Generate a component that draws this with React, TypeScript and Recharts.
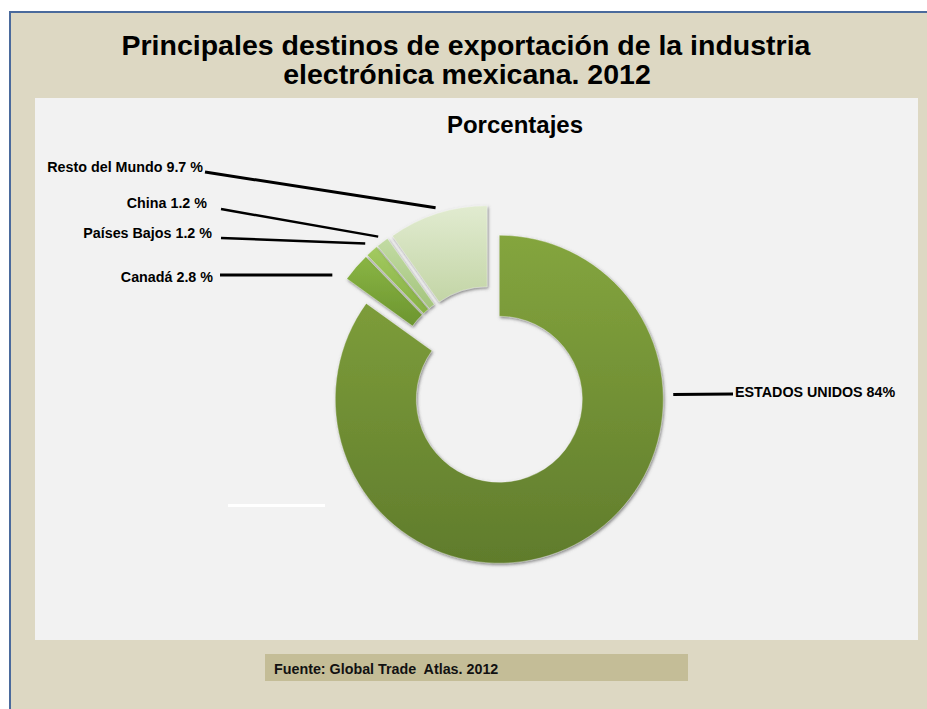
import React from 'react';
import { PieChart, Pie, Cell } from 'recharts';

const categories = ['ESTADOS UNIDOS', 'Canadá', 'Países Bajos', 'China', 'Resto del Mundo'];
const shares = [84, 2.8, 1.2, 1.2, 9.7];
const labelTexts = ['ESTADOS UNIDOS 84%', 'Canadá 2.8 %', 'Países Bajos 1.2 %', 'China 1.2 %', 'Resto del Mundo 9.7 %'];

const data = categories.map((name, i) => ({ name, value: shares[i] }));

// styling / layout
const gradIds = ['gUS', 'gCA', 'gPB', 'gCN', 'gRM'];
const gradStops: [string, string][] = [
  ['#84a53e', '#607c2c'],
  ['#8ab544', '#6c952f'],
  ['#a3ca60', '#86b043'],
  ['#c2dba3', '#a4c47d'],
  ['#e1ebd0', '#c3d5a6'],
];
const CX = 492;
const CY = 385;
const OUTER = 164;
const INNER = 83;
const EXPLODE = 16;
const RAD = Math.PI / 180;

type LabelLayout = { tx: number; ty: number; anchor: 'start' | 'end'; x1: number; y1: number; gap: number; angle?: number; w: number };
const labelLayout: LabelLayout[] = [
  { tx: 735, ty: 397, anchor: 'start', x1: 733, y1: 394, gap: 10, angle: 1.6, w: 3 },
  { tx: 213, ty: 282, anchor: 'end', x1: 220, y1: 275, gap: 14, angle: 146, w: 3 },
  { tx: 212, ty: 238, anchor: 'end', x1: 221, y1: 238, gap: 10, w: 2.5 },
  { tx: 207, ty: 208, anchor: 'end', x1: 221, y1: 209, gap: 7, w: 2.5 },
  { tx: 203, ty: 172, anchor: 'end', x1: 205, y1: 172, gap: 6, w: 3 },
];

const total = shares.reduce((a, b) => a + b, 0);
const midAngles = shares.map((v, i) => {
  const before = shares.slice(0, i).reduce((a, b) => a + b, 0);
  return 90 - ((before + v / 2) / total) * 360;
});

const makeLabel = (idx: number) => (props: any) => {
  if (props.index !== idx) return null;
  const L = labelLayout[idx];
  const ang = L.angle !== undefined ? L.angle : props.midAngle;
  const r = props.outerRadius + L.gap;
  const x2 = props.cx + r * Math.cos(-ang * RAD);
  const y2 = props.cy + r * Math.sin(-ang * RAD);
  return (
    <g>
      <line x1={L.x1} y1={L.y1} x2={x2} y2={y2} stroke="#000" strokeWidth={L.w} />
      <text
        x={L.tx}
        y={L.ty}
        textAnchor={L.anchor}
        fontFamily="'Liberation Sans', Arial, sans-serif"
        fontWeight="bold"
        fontSize={14.3}
        fill="#000"
      >
        {labelTexts[idx]}
      </text>
    </g>
  );
};

export default function App() {
  return (
    <div style={{ position: 'absolute', left: 0, top: 0, width: 927, height: 709, background: '#ffffff', overflow: 'hidden' }}>
      <div
        style={{
          position: 'absolute',
          left: 9,
          top: 11,
          width: 918,
          height: 698,
          background: '#ddd8c3',
          borderLeft: '2px solid #4a6a9c',
          borderTop: '2px solid #4a6a9c',
          boxSizing: 'border-box',
        }}
      />
      <div style={{ position: 'absolute', left: 35, top: 98, width: 883, height: 542, background: '#f2f2f2' }} />
      <div style={{ position: 'absolute', left: 228, top: 504, width: 97, height: 3, background: '#ffffff' }} />
      <div style={{ position: 'absolute', left: 265, top: 654, width: 423, height: 27, background: '#c4bd97' }} />
      <div
        style={{
          position: 'absolute',
          left: 274,
          top: 660,
          fontFamily: "'Liberation Sans', Arial, sans-serif",
          fontWeight: 'bold',
          fontSize: 14.3,
          whiteSpace: 'pre',
          color: '#111',
          lineHeight: '18px',
        }}
      >
        {'Fuente: Global Trade  Atlas. 2012'}
      </div>
      <div style={{ position: 'absolute', left: 0, top: 0 }}>
        <PieChart width={927} height={709} margin={{ top: 0, right: 0, bottom: 0, left: 0 }}>
          <defs>
            {gradIds.map((id, i) => (
              <linearGradient key={id} id={id} x1="0" y1="0" x2="0" y2="1">
                <stop offset="0%" stopColor={gradStops[i][0]} />
                <stop offset="100%" stopColor={gradStops[i][1]} />
              </linearGradient>
            ))}
            <filter id="shadow" x="-20%" y="-20%" width="140%" height="140%">
              <feDropShadow dx="1" dy="1.5" stdDeviation="1.6" floodColor="#555" floodOpacity="0.7" />
            </filter>
          </defs>
          <text
            x={466}
            y={55}
            textAnchor="middle"
            fontFamily="'Liberation Sans', Arial, sans-serif"
            fontWeight="bold"
            fontSize={28.5}
            fill="#000"
          >
            Principales destinos de exportación de la industria
          </text>
          <text
            x={467}
            y={84}
            textAnchor="middle"
            fontFamily="'Liberation Sans', Arial, sans-serif"
            fontWeight="bold"
            fontSize={28.5}
            fill="#000"
          >
            electrónica mexicana. 2012
          </text>
          <text
            x={515}
            y={133}
            textAnchor="middle"
            fontFamily="'Liberation Sans', Arial, sans-serif"
            fontWeight="bold"
            fontSize={24}
            fill="#000"
          >
            Porcentajes
          </text>
          {categories.map((cat, idx) => {
            const dx = EXPLODE * Math.cos(midAngles[idx] * RAD);
            const dy = -EXPLODE * Math.sin(midAngles[idx] * RAD);
            return (
              <Pie
                key={cat}
                data={data}
                dataKey="value"
                nameKey="name"
                cx={CX + dx}
                cy={CY + dy}
                innerRadius={INNER}
                outerRadius={OUTER}
                startAngle={90}
                endAngle={-270}
                stroke="none"
                isAnimationActive={false}
                labelLine={false}
                label={makeLabel(idx)}
              >
                {data.map((d, i) => (
                  <Cell
                    key={d.name}
                    fill={i === idx ? `url(#${gradIds[i]})` : 'none'}
                    stroke={i === idx ? 'rgba(255,255,255,0.35)' : 'none'}
                    strokeWidth={i === idx ? 1 : 0}
                    filter={i === idx ? 'url(#shadow)' : undefined}
                  />
                ))}
              </Pie>
            );
          })}
        </PieChart>
      </div>
    </div>
  );
}
